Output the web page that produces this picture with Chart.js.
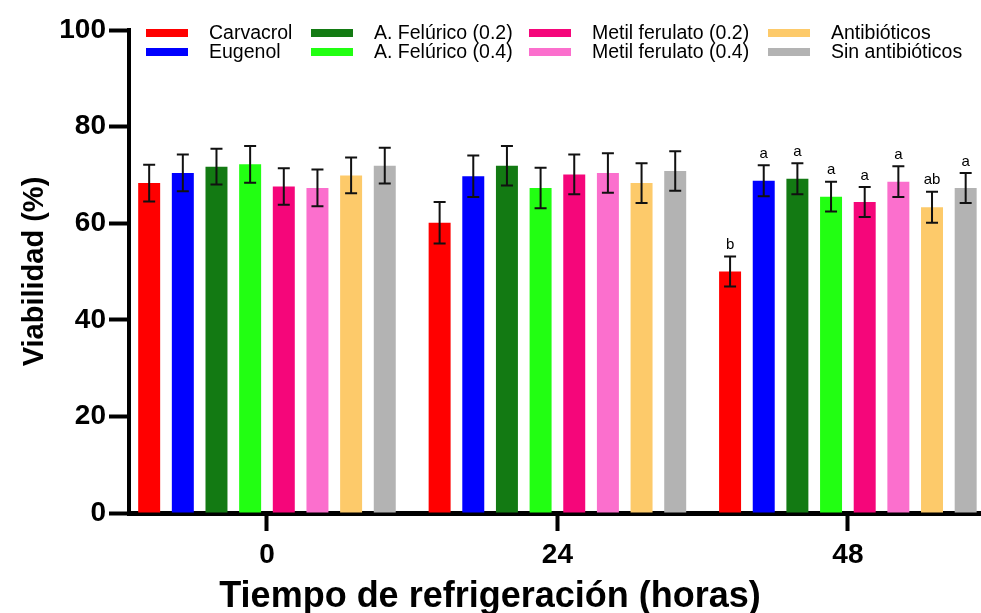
<!DOCTYPE html>
<html>
<head>
<meta charset="utf-8">
<script src="https://cdn.jsdelivr.net/npm/chart.js@4/dist/chart.umd.min.js"></script>
<style>
  html, body { margin: 0; padding: 0; background: #fff; overflow: hidden; }
  #viabilidad-chart { display: block; }
</style>
</head>
<body>
<canvas id="viabilidad-chart" width="981" height="613"></canvas>
<script>
// Datos
const tiempos = [0, 24, 48];
const tratamientos = [
  "Carvacrol", "Eugenol", "A. Felúrico (0.2)", "A. Felúrico (0.4)",
  "Metil ferulato (0.2)", "Metil ferulato (0.4)", "Antibióticos", "Sin antibióticos"
];
const colores = ["#ff0000", "#0000ff", "#137a13", "#22ff12", "#f5067a", "#fb6fcd", "#fdca6a", "#b3b3b3"];
const viabilidad0h = [68.3, 70.4, 71.7, 72.2, 67.6, 67.3, 69.9, 71.9];
const viabilidad24h = [60.1, 69.7, 71.9, 67.3, 70.1, 70.4, 68.3, 70.8];
const viabilidad48h = [50.0, 68.8, 69.2, 65.5, 64.4, 68.6, 63.3, 67.3];
const error0h = [3.8, 3.8, 3.7, 3.8, 3.8, 3.8, 3.7, 3.7];
const error24h = [4.3, 4.3, 4.1, 4.2, 4.1, 4.1, 4.1, 4.1];
const error48h = [3.1, 3.2, 3.2, 3.1, 3.1, 3.2, 3.2, 3.1];
const letras48h = ["b", "a", "a", "a", "a", "a", "ab", "a"];
const yTicks = [0, 20, 40, 60, 80, 100];

const FONT = "'Liberation Sans', Arial, sans-serif";

const medias = [viabilidad0h, viabilidad24h, viabilidad48h];
const errores = [error0h, error24h, error48h];
const letras = [[], [], letras48h];

const datasets = tratamientos.map((nombre, i) => ({
  label: nombre,
  data: tiempos.map((t, j) => ({ x: t, y: medias[j][i] })),
  errores: tiempos.map((t, j) => errores[j][i]),
  letras: tiempos.map((t, j) => letras[j][i] || ""),
  backgroundColor: colores[i],
  borderWidth: 0,
  categoryPercentage: 0.927,
  barPercentage: 0.653,
}));

// barras de error + letras de significancia
const errorBars = {
  id: "errorBars",
  afterDatasetsDraw(chart) {
    const { ctx } = chart;
    const yScale = chart.scales.y;
    ctx.save();
    ctx.strokeStyle = "#111";
    ctx.lineWidth = 2;
    chart.data.datasets.forEach((ds, di) => {
      const meta = chart.getDatasetMeta(di);
      meta.data.forEach((bar, k) => {
        const v = ds.data[k].y;
        const e = ds.errores[k];
        const top = yScale.getPixelForValue(v + e);
        const bot = yScale.getPixelForValue(v - e);
        const cap = 6;
        ctx.beginPath();
        ctx.moveTo(bar.x, top);
        ctx.lineTo(bar.x, bot);
        ctx.moveTo(bar.x - cap, top);
        ctx.lineTo(bar.x + cap, top);
        ctx.moveTo(bar.x - cap, bot);
        ctx.lineTo(bar.x + cap, bot);
        ctx.stroke();
        if (ds.letras[k]) {
          ctx.fillStyle = "#000";
          ctx.font = "15px " + FONT;
          ctx.textAlign = "center";
          ctx.textBaseline = "bottom";
          ctx.fillText(ds.letras[k], bar.x, top - 4);
        }
      });
    });
    ctx.restore();
  },
};

// leyenda en 4 columnas x 2 filas + título del eje x (descentrado como en la figura)
const leyenda = {
  id: "leyenda",
  afterDraw(chart) {
    const { ctx } = chart;
    const colX = [146, 311, 529, 768];
    const rowY = [33, 52];
    ctx.save();
    ctx.font = "19.5px " + FONT;
    ctx.textBaseline = "middle";
    ctx.textAlign = "left";
    chart.data.datasets.forEach((ds, i) => {
      const x = colX[Math.floor(i / 2)];
      const y = rowY[i % 2];
      ctx.fillStyle = ds.backgroundColor;
      ctx.fillRect(x, y - 4, 42, 8);
      ctx.fillStyle = "#000";
      ctx.fillText(ds.label, x + 63, y + 1);
    });
    ctx.font = "bold 36px " + FONT;
    ctx.textAlign = "center";
    ctx.fillText("Tiempo de refrigeración (horas)", 490, 597);
    ctx.restore();
  },
};

new Chart(document.getElementById("viabilidad-chart"), {
  type: "bar",
  data: { datasets: datasets },
  options: {
    responsive: false,
    devicePixelRatio: 1,
    animation: false,
    layout: { padding: { top: 30, right: 0, left: 0, bottom: 0 } },
    plugins: { legend: { display: false }, tooltip: { enabled: false } },
    scales: {
      x: {
        type: "linear",
        offset: false,
        min: -11.4,
        max: 59,
        afterBuildTicks: (s) => { s.ticks = tiempos.map((t) => ({ value: t })); },
        afterFit: (s) => { s.height = 100; },
        border: { display: true, color: "#000", width: 5 },
        grid: { offset: false, drawOnChartArea: false, drawTicks: true, tickLength: 18, tickWidth: 4, tickColor: "#000" },
        ticks: { color: "#000", font: { family: FONT, size: 28, weight: "bold" }, padding: 7, maxRotation: 0 },
      },
      y: {
        min: 0,
        max: 100,
        afterBuildTicks: (s) => { s.ticks = yTicks.map((t) => ({ value: t })); },
        afterFit: (s) => { s.width = 129; },
        border: { display: true, color: "#000", width: 4 },
        grid: { drawOnChartArea: false, drawTicks: true, tickLength: 20, tickWidth: 4, tickColor: "#000" },
        ticks: { color: "#000", font: { family: FONT, size: 28, weight: "bold" }, padding: 3 },
        title: {
          display: true,
          text: "Viabilidad (%)",
          color: "#000",
          font: { family: FONT, size: 29, weight: "bold", lineHeight: 1 },
          padding: { top: 20, bottom: 0 },
        },
      },
    },
  },
  plugins: [errorBars, leyenda],
});
</script>
</body>
</html>
